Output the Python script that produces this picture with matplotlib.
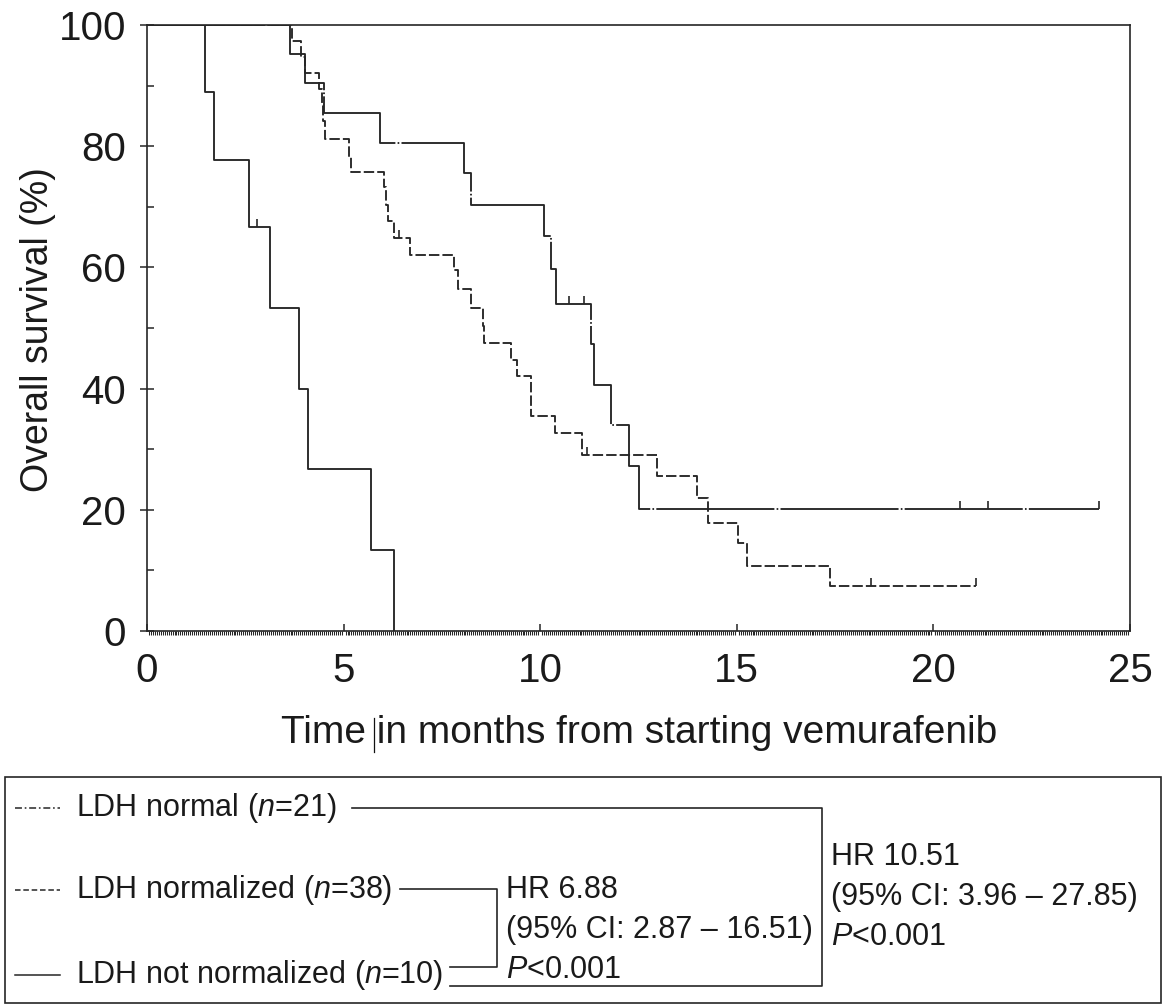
import matplotlib
matplotlib.use('Agg')
import matplotlib.pyplot as plt
from matplotlib.ticker import MultipleLocator
from matplotlib.patches import Rectangle

plt.rcParams['font.family'] = ['Liberation Sans', 'DejaVu Sans']
plt.rcParams['mathtext.fontset'] = 'custom'
plt.rcParams['mathtext.rm'] = 'Liberation Sans'
plt.rcParams['mathtext.it'] = 'Liberation Sans:italic'
plt.rcParams['lines.scale_dashes'] = False

# ---------------- data ----------------
# LDH normal (n=21)
t_normal = [0, 3.63, 4.01, 4.49, 5.93, 8.05, 8.24, 10.10, 10.27, 10.41,
            11.29, 11.38, 11.81, 12.25, 12.52, 24.2]
s_normal = [100, 95.2, 90.5, 85.5, 80.5, 75.5, 70.3, 65.2, 59.7, 54.0,
            47.4, 40.6, 34.0, 27.2, 20.2, 20.2]
cens_t_normal = [10.72, 11.11, 20.67, 21.39, 24.2]
cens_s_normal = [54.0, 54.0, 20.2, 20.2, 20.2]

# LDH normalized (n=38)
t_normalized = [0, 3.69, 3.92, 4.02, 4.38, 4.44, 4.47, 4.52, 5.13, 5.19,
                6.02, 6.09, 6.14, 6.27, 6.68, 7.81, 7.92, 8.24, 8.55, 8.58,
                9.25, 9.42, 9.77, 10.38, 11.07, 12.97, 13.98, 14.27, 15.02,
                15.27, 17.36, 21.09]
s_normalized = [100, 97.4, 94.7, 92.1, 89.5, 86.8, 84.2, 81.2, 78.2, 75.7,
                73.2, 70.3, 67.6, 64.8, 62.1, 59.5, 56.5, 53.3, 50.4, 47.6,
                44.8, 42.0, 35.5, 32.6, 29.1, 25.5, 22.0, 17.9, 14.5,
                10.8, 7.4, 7.4]
cens_t_normalized = [6.41, 11.19, 18.41, 21.09]
cens_s_normalized = [64.8, 29.1, 7.4, 7.4]

# LDH not normalized (n=10)
t_notnorm = [0, 1.48, 1.70, 2.60, 3.13, 3.87, 4.10, 5.70, 6.28]
s_notnorm = [100, 88.9, 77.8, 66.7, 53.3, 40.0, 26.7, 13.3, 0]
cens_t_notnorm = [2.81]
cens_s_notnorm = [66.7]

x_ticks = [0, 5, 10, 15, 20, 25]
y_ticks = [0, 20, 40, 60, 80, 100]

legend_labels = [r'LDH normal ($\mathit{n}$=21)',
                 r'LDH normalized ($\mathit{n}$=38)',
                 r'LDH not normalized ($\mathit{n}$=10)']
hr_inner = ['HR 6.88', '(95% CI: 2.87 \u2013 16.51)', r'$\mathit{P}$<0.001']
hr_outer = ['HR 10.51', '(95% CI: 3.96 \u2013 27.85)', r'$\mathit{P}$<0.001']

# ---------------- styles ----------------
ink = '#262626'
ls_normal = (0, (85, 1.6, 1.2, 1.6))
ls_normalized = (0, (7.5, 2.2))
ls_notnorm = '-'
lw = 1.35

W, H = 1165, 1006
fig = plt.figure(figsize=(W / 100, H / 100), dpi=100)

# overlay for the legend panel (pixel coordinates)
ov = fig.add_axes([0, 0, 1, 1])
ov.set_xlim(0, W)
ov.set_ylim(H, 0)
ov.axis('off')

ax = fig.add_axes([147 / W, 1 - 631 / H, 983 / W, 606 / H])
ax.patch.set_alpha(0)

ax.step(t_normal, s_normal, where='post', color=ink, lw=lw, linestyle=ls_normal)
ax.step(t_normalized, s_normalized, where='post', color=ink, lw=lw, linestyle=ls_normalized)
ax.step(t_notnorm, s_notnorm, where='post', color=ink, lw=lw, linestyle=ls_notnorm)
for ct, cs in [(cens_t_normal, cens_s_normal), (cens_t_normalized, cens_s_normalized),
               (cens_t_notnorm, cens_s_notnorm)]:
    ax.plot(ct, cs, linestyle='none', marker=2, markersize=5.5, mew=1.2, color=ink)

ax.set_xlim(0, 25)
ax.set_ylim(0, 100)
ax.set_xticks(x_ticks)
ax.set_yticks(y_ticks)
ax.xaxis.set_minor_locator(MultipleLocator(0.05))
ax.yaxis.set_minor_locator(MultipleLocator(10))
for sp in ax.spines.values():
    sp.set_linewidth(1.2)
    sp.set_color(ink)
ax.tick_params(axis='x', which='major', direction='in', length=5, width=1.1,
               color=ink, labelsize=29, pad=15, labelcolor='#1a1a1a')
ax.tick_params(axis='x', which='minor', direction='out', length=3, width=0.75, color=ink)
ax.tick_params(axis='y', which='major', direction='inout', length=10, width=1.1,
               color=ink, labelsize=29, pad=10, labelcolor='#1a1a1a')
ax.tick_params(axis='y', which='minor', direction='in', length=5, width=1.1, color=ink)

ax.set_xlabel('Time in months from starting vemurafenib', fontsize=28, color='#1a1a1a')
ax.set_ylabel('Overall survival (%)', fontsize=27, color='#1a1a1a')
ax.xaxis.set_label_coords((639 - 147) / 983, (631 - 733) / 606)
ax.xaxis.label.set_va('center')
ax.yaxis.set_label_coords((38 - 147) / 983, (631 - 330) / 606)
ax.yaxis.label.set_va('center')

# stray cursor mark in the x label
ov.plot([374, 374], [718, 752], color='#111111', lw=0.9)

# ---------------- legend panel ----------------
ov.add_patch(Rectangle((5, 777), 1156, 226, fill=False, lw=1.2, edgecolor=ink))
fs = 22
rows_y = [808, 890, 975]
styles = [(0, (5, 2, 1.2, 2)), (0, (4, 2)), '-']
for y, lab, st in zip(rows_y, legend_labels, styles):
    ov.plot([15, 60], [y, y], color=ink, lw=1.1, linestyle=st)
    ov.text(76, y, lab, fontsize=fs, va='center', ha='left', color='#1a1a1a')

# bracket lines
ov.plot([352, 822, 822, 450], [808, 808, 986, 986], color=ink, lw=1.2)
ov.plot([400, 497, 497, 450], [889, 889, 967, 967], color=ink, lw=1.2)

for i, s in enumerate(hr_inner):
    ov.text(506, 890 + 40 * i, s, fontsize=fs, va='center', ha='left', color='#1a1a1a')
for i, s in enumerate(hr_outer):
    ov.text(831, 857 + 40 * i, s, fontsize=fs, va='center', ha='left', color='#1a1a1a')

fig.savefig('out.png', dpi=100)
